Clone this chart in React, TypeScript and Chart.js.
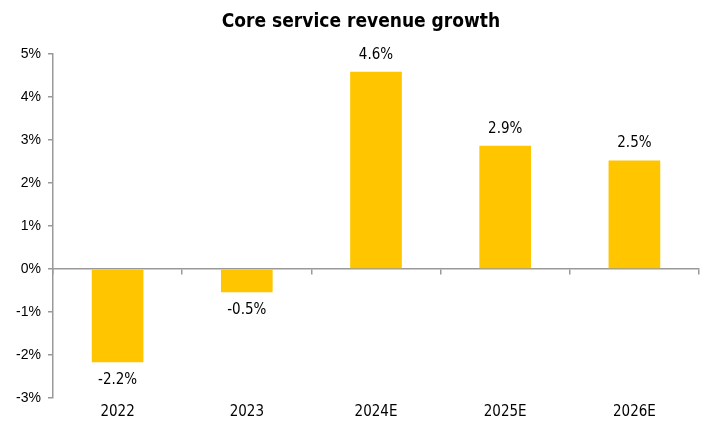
import React, { useEffect, useRef } from "react";
import { Chart, registerables } from "chart.js";

Chart.register(...registerables);

const categories = ["2022", "2023", "2024E", "2025E", "2026E"];
const growth = [-2.17, -0.54, 4.58, 2.86, 2.52];
const yTicks = [-3, -2, -1, 0, 1, 2, 3, 4, 5];
const titleText = "Core service revenue growth";

const labelFont = "'DejaVu Sans Condensed', 'DejaVu Sans', sans-serif";

const valueLabels = {
  id: "valueLabels",
  afterDatasetsDraw(chart: any) {
    const ctx = chart.ctx;
    const meta = chart.getDatasetMeta(0);
    ctx.save();
    ctx.font = `15px ${labelFont}`;
    ctx.fillStyle = "#000";
    ctx.textAlign = "center";
    ctx.textBaseline = "middle";
    meta.data.forEach((bar: any, i: number) => {
      const v = growth[i];
      const y = v >= 0 ? bar.y - 17 : bar.y + 18;
      ctx.fillText(v.toFixed(1) + "%", bar.x, y);
    });
    // title centred on the full canvas
    ctx.font = `bold 19px ${labelFont}`;
    ctx.fillText(titleText, chart.width / 2 + 3, 22);
    ctx.restore();
  },
};

export default function App() {
  const ref = useRef<HTMLCanvasElement>(null);
  useEffect(() => {
    document.body.style.margin = "0";
    const chart = new Chart(ref.current!, {
      type: "bar",
      data: {
        labels: categories,
        datasets: [
          {
            data: growth,
            backgroundColor: "#FFC600",
            barPercentage: 0.4,
            categoryPercentage: 1,
          },
        ],
      },
      options: {
        animation: false,
        responsive: false,
        layout: { padding: { right: 17, bottom: 0, top: 0, left: 0 } },
        plugins: {
          legend: { display: false },
          tooltip: { enabled: false },
          title: {
            display: true,
            text: titleText,
            color: "rgba(0,0,0,0)",
            font: { family: labelFont, size: 19, weight: "bold" },
            padding: { top: 11, bottom: 20 },
          },
        },
        scales: {
          x: {
            position: "bottom",
            grid: { display: false },
            border: { display: false },
            ticks: {
              color: "#000",
              font: { family: labelFont, size: 15 },
              padding: -3,
            },
            afterFit: (s: any) => {
              s.height = 25;
            },
          },
          x2: {
            type: "category",
            labels: categories,
            position: { y: 0 } as any,
            offset: true,
            grid: {
              display: true,
              offset: true,
              drawOnChartArea: false,
              drawTicks: true,
              tickLength: 5,
              color: "#999",
              lineWidth: 1.5,
            },
            border: { display: true, color: "#999", width: 1.5 },
            ticks: { display: false },
          },
          y: {
            min: -3,
            max: 5,
            afterBuildTicks: (s: any) => {
              s.ticks = yTicks.map((v) => ({ value: v }));
            },
            grid: {
              drawOnChartArea: false,
              drawTicks: true,
              tickLength: 5,
              color: "#999",
              lineWidth: 1.5,
            },
            border: { display: true, color: "#999", width: 1.5 },
            ticks: {
              color: "#000",
              font: { family: "'Liberation Sans', Arial, sans-serif", size: 14 },
              padding: 7,
              callback: (v: any) => v + "%",
            },
            afterFit: (s: any) => {
              s.width = 53;
            },
          },
        },
      },
      plugins: [valueLabels],
    });
    return () => chart.destroy();
  }, []);
  return (
    <div style={{ position: "absolute", left: 0, top: 0, width: 716, height: 423 }}>
      <canvas ref={ref} width={716} height={423} />
    </div>
  );
}
